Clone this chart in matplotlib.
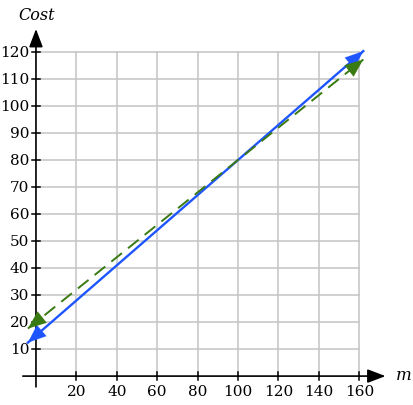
import numpy as np
import matplotlib
matplotlib.use("Agg")
import matplotlib.pyplot as plt

# chart data
x_ticks = [20, 40, 60, 80, 100, 120, 140, 160]
y_ticks = [10, 20, 30, 40, 50, 60, 70, 80, 90, 100, 110, 120]
m_range = [-4, 162]
blue_intercept, blue_slope = 15, 0.65
green_intercept, green_slope = 20, 0.60

blue = "#1f55ff"
green = "#3a7a12"

plt.rcParams["font.family"] = "DejaVu Serif"

fig = plt.figure(figsize=(4.13, 4.06), dpi=100)
ax = fig.add_axes([0, 0, 1, 1])
ax.set_xlim(-17.8, 186.6)
ax.set_ylim(-10.7, 139.6)
ax.axis("off")

# grid
for xv in x_ticks:
    ax.plot([xv, xv], [0, max(y_ticks)], color="#c4c4c4", lw=1.1, zorder=1)
for yv in y_ticks:
    ax.plot([0, max(x_ticks)], [yv, yv], color="#c4c4c4", lw=1.1, zorder=1)

# axes with arrows
axis_head = "-|>,head_length=1.0,head_width=0.38"
ax.annotate("", xy=(173, 0), xytext=(-6.5, 0),
            arrowprops=dict(arrowstyle=axis_head, color="black", lw=1.2,
                            shrinkA=0, shrinkB=0, mutation_scale=11), zorder=3)
ax.annotate("", xy=(0, 128.5), xytext=(0, -4),
            arrowprops=dict(arrowstyle=axis_head, color="black", lw=1.2,
                            shrinkA=0, shrinkB=0, mutation_scale=11), zorder=3)

# ticks and labels
for xv in x_ticks:
    ax.plot([xv, xv], [-1.5, 1.5], color="black", lw=1.1, zorder=3)
    ax.text(xv, -2.8, str(xv), ha="center", va="top", fontsize=11)
for yv in y_ticks:
    ax.plot([-2.2, 2.2], [yv, yv], color="black", lw=1.1, zorder=3)
    ax.text(-3.2, yv, str(yv), ha="right", va="center", fontsize=11)

ax.text(178, 0.5, "m", style="italic", fontsize=12, ha="left", va="center")
ax.text(0.5, 130.8, "Cost", style="italic", fontsize=11.5, ha="center", va="bottom")

# lines
m = np.array(m_range, dtype=float)
y_blue = blue_intercept + blue_slope * m
y_green = green_intercept + green_slope * m

ax.plot(m, y_blue, color=blue, lw=1.7, zorder=4)
ax.plot(m, y_green, color=green, lw=1.4, dashes=(7, 4), zorder=4)

head = "-|>,head_length=1.0,head_width=0.4"
for ys, c, slope in [(y_blue, blue, blue_slope), (y_green, green, green_slope)]:
    for i, d in [(0, 1), (1, -1)]:
        tip = (m[i], ys[i])
        back = (m[i] + d * 10, ys[i] + d * 10 * slope)
        ax.annotate("", xy=tip, xytext=back,
                    arrowprops=dict(arrowstyle=head, color=c, lw=0.1,
                                    shrinkA=0, shrinkB=0, mutation_scale=13),
                    zorder=5)

fig.savefig("out.png", dpi=100)
